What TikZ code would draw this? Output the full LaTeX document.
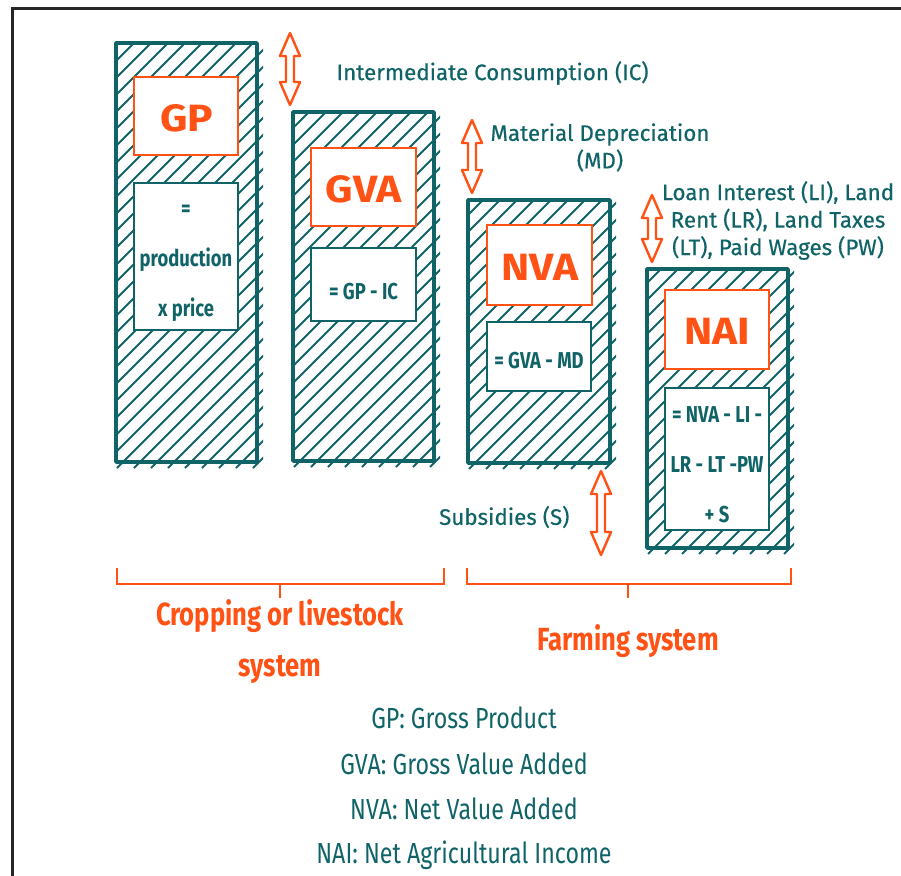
\documentclass[tikz,border=0pt]{standalone}
\usepackage{fontspec}
\setmainfont{Fira Sans}
\newfontfamily\condfont[FakeStretch=0.8]{Fira Sans}
\newfontfamily\titfont[FakeStretch=1.12]{Fira Sans}
\newfontfamily\labfont[FakeBold=0.4]{Fira Sans}
\definecolor{teal1}{RGB}{16,100,104}
\definecolor{orng}{RGB}{255,82,20}
\tikzset{
  hatchline/.style={teal1, line width=2pt},
  colborder/.style={teal1, line width=3.5pt, line join=round},
  titlebox/.style={draw=orng, fill=white, line width=2pt},
  formbox/.style={draw=teal1, fill=white, line width=2.2pt},
  titletext/.style={text=orng, font=\titfont\bfseries\fontsize{38}{40}\selectfont},
  formtext/.style={text=teal1, align=center, font=\condfont\bfseries\fontsize{23}{50}\selectfont},
  labeltext/.style={text=teal1, align=center, font=\labfont\fontsize{22.4}{27.5}\selectfont},
  dblarr/.style={draw=orng, line width=2.4pt, fill=white, line join=round},
  bracket/.style={draw=orng, line width=2.6pt},
  systext/.style={text=orng, align=center, font=\condfont\bfseries\fontsize{32}{51}\selectfont},
  legtext/.style={text=teal1, font=\condfont\fontsize{29}{30}\selectfont},
}
\newcommand{\hatchcol}[5]{% name, x0,y0,x1,y1
  \begin{scope}
    \clip (#2,#3) rectangle ({#4+6},{#5+6});
    \foreach \d in {-560,-543,...,170} \draw[hatchline] ({#2+\d},{#5+6}) -- ++(600,-600);
  \end{scope}
  \draw[colborder] (#2,#3) rectangle (#4,#5);
  \coordinate (#1) at ({(#2+#4)/2},{(#3+#5)/2});
}
\newcommand{\dblarrow}[4]{% name, x, ytop, ybot
  \draw[dblarr] (#2,#3) -- ({#2+10},{#3+23}) -- ({#2+4},{#3+23}) -- ({#2+4},{#4-23}) -- ({#2+10},{#4-23}) -- (#2,#4)
    -- ({#2-10},{#4-23}) -- ({#2-4},{#4-23}) -- ({#2-4},{#3+23}) -- ({#2-10},{#3+23}) -- cycle;
  \coordinate (#1) at (#2,{(#3+#4)/2});
}
\begin{document}
\begin{tikzpicture}[x=1pt,y=-1pt]
\useasboundingbox (0,0) rectangle (901,875);
\fill[white] (0,0) rectangle (901,875);
% frame
\draw[black!85, line width=3pt] (12,876) -- (12,9) -- (902,9);

% columns
\hatchcol{gpcol}{116}{43}{257}{462}
\hatchcol{gvacol}{293}{112}{434}{461}
\hatchcol{nvacol}{468}{200}{610}{463}
\hatchcol{naicol}{647}{269}{788}{548}

% title boxes
\node[titlebox, minimum width=104pt, minimum height=78pt] (gpbox) at (186,116) {};
\node[titletext] (gp) at (187,118) {GP};
\node[titlebox, minimum width=105pt, minimum height=78pt] (gvabox) at (363.5,186.5) {};
\node[titletext] (gva) at (364,189) {GVA};
\node[titlebox, minimum width=105pt, minimum height=80pt] (nvabox) at (539.5,265) {};
\node[titletext] (nva) at (540,267) {NVA};
\node[titlebox, minimum width=104pt, minimum height=79pt] (naibox) at (717,329.5) {};
\node[titletext] (nai) at (717,331) {NAI};

% formula boxes
\node[formbox, minimum width=104pt, minimum height=147pt] (gpfbox) at (186,256.5) {};
\node[formtext] (gpf) at (186,263) {=\\production\\x price};
\node[formbox, minimum width=105pt, minimum height=73pt] (gvafbox) at (363.5,284.5) {};
\node[formtext] (gvaf) at (363.5,292) {= GP - IC};
\node[formbox, minimum width=104pt, minimum height=69pt] (nvafbox) at (539,356.5) {};
\node[formtext] (nvaf) at (539,361) {= GVA - MD};
\node[formbox, minimum width=104pt, minimum height=142pt] (naifbox) at (717,459) {};
\node[formtext] (naif) at (717,465) {= NVA - LI -\\LR - LT -PW\\+ S};

% double arrows
\dblarrow{icarr}{290}{33}{105}
\dblarrow{mdarr}{472}{120}{193}
\dblarrow{liarr}{652}{195}{262}
\dblarrow{sarr}{601}{471}{555}

% labels
\node[labeltext, anchor=west] (ic) at (333,73) {Intermediate Consumption (IC)};
\node[labeltext] (md) at (600,147.5) {Material Depreciation\\(MD)};
\node[labeltext] (li) at (778,220.5) {Loan Interest (LI), Land\\Rent (LR), Land Taxes\\(LT), Paid Wages (PW)};
\node[labeltext, anchor=east] (sub) at (573,517) {Subsidies (S)};

% brackets
\draw[bracket] (117,568) -- (117,584) -- (444,584) -- (444,568);
\coordinate (lbm) at (280,584);
\draw[bracket] (lbm) -- ++(0,14);
\draw[bracket] (467,568) -- (467,584) -- (791,584) -- (791,568);
\coordinate (rbm) at (628,584);
\draw[bracket] (rbm) -- ++(0,14);

\node[systext] (crop) at (280,642) {Cropping or livestock\\system};
\node[systext] (farm) at (628,641) {Farming system};

% legend
\node[legtext] (l1) at (464,718) {GP: Gross Product};
\node[legtext] (l2) at (464,764) {GVA: Gross Value Added};
\node[legtext] (l3) at (464,809) {NVA: Net Value Added};
\node[legtext] (l4) at (464,855) {NAI: Net Agricultural Income};
\end{tikzpicture}
\end{document}
